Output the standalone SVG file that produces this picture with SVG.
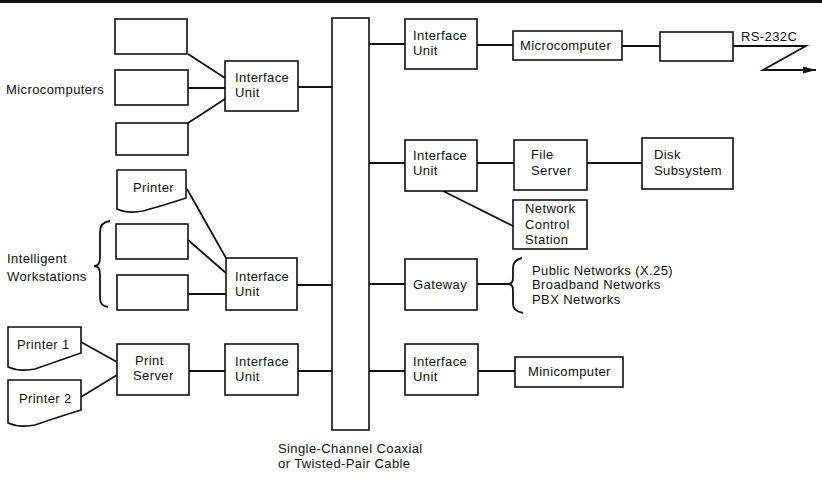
<svg xmlns="http://www.w3.org/2000/svg" width="822" height="482" viewBox="0 0 822 482">
<style>
.b{fill:#fff;stroke:#111;stroke-width:1.6}
.l{fill:none;stroke:#111;stroke-width:1.8}
text{font-family:"Liberation Sans",Arial,sans-serif;font-size:13px;fill:#111;letter-spacing:0.4px}
</style>
<defs>
<marker id="ah" markerWidth="14" markerHeight="8" refX="13" refY="4" orient="auto" markerUnits="userSpaceOnUse">
<path d="M0,0.5 L13,4 L0,7.5 Z" fill="#111"/>
</marker>
</defs>
<rect x="0" y="0" width="822" height="3" fill="#111"/>

<g id="connectors">
<path class="l" d="M188,54 L225,78 M188,88 H225 M188,123 L225,99 M298,87 H332"/>
<path class="l" d="M187,189 L226,258 M188,240 L226,273 M188,294 H226 M297,285 H332"/>
<path class="l" d="M81,342 L117,362 M81,397 L117,375 M189,371 H225 M298,371 H332"/>
<path class="l" d="M369,44 H405 M477,45 H513 M622,46 H660"/>
<path class="l" d="M369,163 H405 M477,163 H514 M587,163 H642 M443,191 L513,226"/>
<path class="l" d="M369,284 H405 M477,284 H508 M369,371 H405 M478,371 H515"/>
<path class="l" d="M733,46 H806 L763,70 H816" marker-end="url(#ah)"/>
<path class="l" stroke-width="1.5" d="M110,221 Q100,222 100,232 V258 Q100,266 94,266 Q100,266 100,274 V298 Q100,306 108,307"/>
<path class="l" stroke-width="1.5" d="M522,258 Q513,260 513,268 V278 Q513,284 508,284 Q513,284 513,290 V304 Q513,311 523,313"/>
</g>

<g id="bus"><rect class="b" x="332" y="18" width="37" height="412"/></g>
<g id="bus-label"><text x="278" y="453">Single-Channel Coaxial</text><text x="278" y="468">or Twisted-Pair Cable</text></g>

<g id="mc1"><rect class="b" x="115" y="19" width="72" height="35"/></g>
<g id="mc2"><rect class="b" x="115" y="70" width="73" height="35"/></g>
<g id="mc3"><rect class="b" x="116" y="123" width="72" height="32"/></g>
<g id="mc-label"><text x="6" y="94">Microcomputers</text></g>
<g id="iu1"><rect class="b" x="225" y="61" width="73" height="50"/><text x="235" y="82">Interface</text><text x="235" y="97">Unit</text></g>

<g id="printer"><path class="b" d="M117,170 H186 V198 Q165,205 143,211 Q128,214 117,209 Z"/><text x="133" y="192">Printer</text></g>
<g id="ws1"><rect class="b" x="116" y="224" width="72" height="35"/></g>
<g id="ws2"><rect class="b" x="117" y="275" width="71" height="35"/></g>
<g id="ws-label"><text x="7" y="263">Intelligent</text><text x="7" y="281">Workstations</text></g>
<g id="iu2"><rect class="b" x="226" y="258" width="71" height="52"/><text x="235" y="281">Interface</text><text x="235" y="296">Unit</text></g>

<g id="printer1"><path class="b" d="M8,327 H81 V353 Q55,362 35,369 Q20,372 8,367 Z"/><text x="17" y="349">Printer 1</text></g>
<g id="printer2"><path class="b" d="M8,380 H81 V410 Q55,418 35,425 Q20,428 8,423 Z"/><text x="19" y="403">Printer 2</text></g>
<g id="ps"><rect class="b" x="117" y="344" width="72" height="51"/><text x="135" y="365">Print</text><text x="133" y="380">Server</text></g>
<g id="iu3"><rect class="b" x="225" y="344" width="73" height="51"/><text x="235" y="366">Interface</text><text x="235" y="381">Unit</text></g>

<g id="iu4"><rect class="b" x="405" y="19" width="72" height="50"/><text x="413" y="40">Interface</text><text x="413" y="55">Unit</text></g>
<g id="micro"><rect class="b" x="513" y="31" width="109" height="29"/><text x="520" y="50">Microcomputer</text></g>
<g id="modem"><rect class="b" x="660" y="32" width="73" height="29"/></g>
<g id="rs"><text x="741" y="41">RS-232C</text></g>

<g id="iu5"><rect class="b" x="405" y="140" width="72" height="51"/><text x="413" y="160">Interface</text><text x="413" y="175">Unit</text></g>
<g id="fs"><rect class="b" x="514" y="140" width="73" height="50"/><text x="531" y="159">File</text><text x="531" y="175">Server</text></g>
<g id="disk"><rect class="b" x="642" y="138" width="91" height="51"/><text x="654" y="159">Disk</text><text x="654" y="175">Subsystem</text></g>
<g id="ncs"><rect class="b" x="513" y="200" width="74" height="49"/><text x="525" y="213">Network</text><text x="525" y="229">Control</text><text x="525" y="244">Station</text></g>

<g id="gw"><rect class="b" x="405" y="259" width="72" height="51"/><text x="413" y="289">Gateway</text></g>
<g id="nets"><text x="532" y="275">Public Networks (X.25)</text><text x="532" y="289">Broadband Networks</text><text x="532" y="304">PBX Networks</text></g>

<g id="iu6"><rect class="b" x="405" y="344" width="73" height="51"/><text x="413" y="366">Interface</text><text x="413" y="381">Unit</text></g>
<g id="mini"><rect class="b" x="515" y="357" width="108" height="30"/><text x="528" y="376">Minicomputer</text></g>
</svg>
